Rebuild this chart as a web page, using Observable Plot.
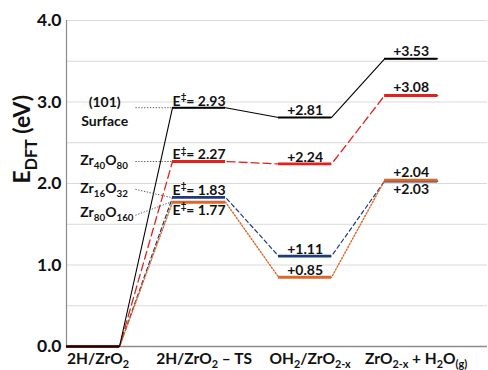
<!DOCTYPE html>
<html>
<head>
<meta charset="utf-8">
<script src="https://cdn.jsdelivr.net/npm/d3@7"></script>
<script src="https://cdn.jsdelivr.net/npm/@observablehq/plot@0.6"></script>
<style>
  html, body { margin: 0; padding: 0; background: #fff; }
  #chart svg { display: block; }
</style>
</head>
<body>
<div id="chart"></div>
<script>
// ---- data ----
const stages = ["2H/ZrO_{2}", "2H/ZrO_{2} – TS", "OH_{2}/ZrO_{2-x}", "ZrO_{2-x} + H_{2}O_{(g)}"];
const seriesNames = ["(101) Surface", "Zr_{40}O_{80}", "Zr_{16}O_{32}", "Zr_{80}O_{160}"];
const surface101 = [0, 2.93, 2.81, 3.53];
const zr40o80 = [0, 2.27, 2.24, 3.08];
const zr16o32 = [0, 1.83, 1.11, 2.03];
const zr80o160 = [0, 1.77, 0.85, 2.04];
const yTicks = [0, 1, 2, 3, 4];
const gridTicks = [0.5, 1, 1.5, 2, 2.5, 3, 3.5, 4];

// ---- layout/style ----
const W = 488, H = 370, mT = 20, mB = 24, mL = 66, mR = 1;
const pxPerUnit = (H - mT - mB) / 4;
const allSeries = [surface101, zr40o80, zr16o32, zr80o160];
const styles = [
  {color: "#000000", level: 2.0, conn: 1.1, dash: null},
  {color: "#e3211c", level: 2.8, conn: 1.3, dash: "8,4"},
  {color: "#1f3a78", level: 2.8, conn: 1.2, dash: "4,3"},
  {color: "#d8692a", level: 2.8, conn: 1.4, dash: "1.4,1.8"}
];
const drawOrder = [2, 3, 1, 0];

const marks = [];
marks.push(Plot.ruleY(gridTicks, {stroke: "#d9d9d9", strokeWidth: 1}));
marks.push(Plot.ruleX([0], {stroke: "#8c8c8c", strokeWidth: 1.2}));
marks.push(Plot.ruleY([0], {stroke: "#8c8c8c", strokeWidth: 1.3}));

for (const s of drawOrder) {
  const vals = allSeries[s], st = styles[s];
  const pts = vals.flatMap((v, i) => [{x: 2 * i, y: v}, {x: 2 * i + 1, y: v}]);
  marks.push(Plot.line(pts, {x: "x", y: "y", stroke: st.color, strokeWidth: st.conn,
    strokeDasharray: st.dash, curve: "linear"}));
  marks.push(Plot.ruleY(vals.map((v, i) => ({i, v})), {
    x1: d => 2 * d.i, x2: d => 2 * d.i + 1, y: "v",
    stroke: st.color, strokeWidth: st.level, strokeLinecap: "butt"}));
}

// leader lines (dotted) from series names to their TS levels
const leaderOffsetPx = [0, 0, -8, 13];
const leaderEndX = [2, 2, 1.96, 1.96];
marks.push(Plot.link(allSeries.map((vals, s) => ({s, v: vals[1]})), {
  x1: 1.3, x2: d => leaderEndX[d.s],
  y1: d => d.v - leaderOffsetPx[d.s] / pxPerUnit, y2: "v",
  stroke: "#555", strokeWidth: 1, strokeDasharray: "1.3,1.6"}));

// series name labels
const nameFont = {fontSize: 14, fontWeight: "bold", fill: "#111"};
marks.push(Plot.text(["(101)"], {x: 0.72, y: surface101[1], text: d => d, dy: -5, ...nameFont}));
marks.push(Plot.text(["Surface"], {x: 0.72, y: surface101[1], text: d => d, dy: 14, ...nameFont}));
const nameDy = [0, -1, -9, 10];
for (const s of [1, 2, 3]) {
  marks.push(Plot.text([seriesNames[s]], {x: 0.26, y: allSeries[s][1], text: d => d,
    textAnchor: "start", dy: nameDy[s], ...nameFont}));
}

// value annotations
const annFont = {fontSize: 14, fontWeight: "bold", fill: "#111"};
allSeries.forEach((vals, s) => {
  const below = s === 3;
  marks.push(Plot.text([vals[1]], {x: 2.5, y: d => d, text: d => `E^{‡}= ${d.toFixed(2)}`,
    lineAnchor: below ? "top" : "bottom", dy: below ? 3 : -2, ...annFont}));
  marks.push(Plot.text([vals[2]], {x: 4.5, y: d => d, text: d => `+${d.toFixed(2)}`,
    lineAnchor: "bottom", dy: -2, ...annFont}));
  const belowF = s === 2;
  marks.push(Plot.text([vals[3]], {x: 6.5, y: d => d, text: d => `+${d.toFixed(2)}`,
    lineAnchor: belowF ? "top" : "bottom", dy: belowF ? 3 : -3, ...annFont}));
});

// category labels
marks.push(Plot.text(stages, {x: (d, i) => 2 * i + 0.5, frameAnchor: "bottom", text: d => d,
  lineAnchor: "top", dy: 6, dx: 5, fontSize: 15.5, fontWeight: "bold", fill: "#111"}));

// y axis
marks.push(Plot.axisY({ticks: yTicks, tickFormat: d3.format(".1f"), tickSize: 0, tickPadding: 5,
  fontSize: 17.5, fontWeight: "bold", label: null, fill: "#111"}));
marks.push(Plot.text(["E_{DFT} (eV)"], {frameAnchor: "left", dx: -44, rotate: -90, text: d => d,
  fontSize: 23, fontWeight: "bold", fill: "#111"}));

const chart = Plot.plot({
  width: W, height: H,
  marginTop: mT, marginBottom: mB, marginLeft: mL, marginRight: mR,
  x: {domain: [0, 7.94], axis: null},
  y: {domain: [0, 4], axis: null},
  style: {fontFamily: "Lato, 'Open Sans', sans-serif", background: "#fff", overflow: "visible"},
  marks
});
document.getElementById("chart").appendChild(chart);

// rich text: _{sub} and ^{sup}
function richify(root) {
  root.querySelectorAll("text").forEach(el => {
    const t = el.textContent;
    if (!/[_^]\{/.test(t)) return;
    const fs = parseFloat(getComputedStyle(el).fontSize) || 12;
    while (el.firstChild) el.removeChild(el.firstChild);
    const re = /([_^])\{([^}]*)\}|([^_^]+)/g;
    let m, off = 0;
    while ((m = re.exec(t))) {
      const ts = document.createElementNS("http://www.w3.org/2000/svg", "tspan");
      let target = 0, size = null, txt;
      if (m[3] !== undefined) { txt = m[3]; }
      else { txt = m[2]; size = 0.7 * fs; target = m[1] === "_" ? 0.3 * fs : -0.42 * fs; }
      ts.setAttribute("dy", (target - off).toFixed(2));
      off = target;
      if (size) ts.setAttribute("font-size", size.toFixed(2));
      ts.textContent = txt;
      el.appendChild(ts);
    }
  });
}
richify(chart);
</script>
</body>
</html>
